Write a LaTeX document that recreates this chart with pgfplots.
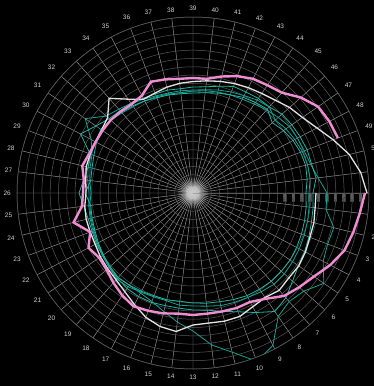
\documentclass[border=0pt]{standalone}
\usepackage{fontspec}
\setmainfont{Liberation Sans}
\usepackage{pgfplots}
\usepackage{pgfplotstable}
\usepgfplotslibrary{polar}
\pgfplotsset{compat=1.18}

\definecolor{spoke}{HTML}{9A9A9A}
\definecolor{ring}{HTML}{585858}
\definecolor{lbl}{HTML}{D0D0D0}
\definecolor{pinkline}{HTML}{F08CD2}
\definecolor{whiteline}{HTML}{E2E2E2}
\definecolor{tealA}{HTML}{12A496}
\definecolor{tealB}{HTML}{20B4A4}

% weekly values, one column per year; week 52 closes the year
\pgfplotstableread{
w  pink  white  ta   tb   tc   td
0  172   123    134  120  116  113
1  168   123    134  121  117  114
2  165   124.5  145  122  118  115
3  162   125    144  124  119  116
4  155   127    147  126  120  117
5  147   128.5  159  128  121  118
6  142   128    148  133  122  118
7  137.5 130    145  140  122  118
8  128.5 127    150  144  120  117
9  123   128.5  172  135  118  116
10 123   132    180  127  117  114
11 122   132    164  122  116  112
12 121.5 131    153  118  114  111
13 122   132    138  117  113  110
14 121.5 139.5  130  116  113  109
15 124   137.5  122  116  111  110
16 126   133    116  117  111  110
17 128   126    113  117  112  111
18 124.5 120    112  116  114  112
19 120   116    113  114  115  113
20 115.5 114    111  112  112  111
21 114   112.5  109  110  110  109
22 118   110.5  108  109  108  107
23 110   110    107  108  106  105
24 123   110    106  108  105  104
25 112   109    105  110  104  103
26 110   107    104  114  102  108
27 110   108    106  110  104  103
28 114   110    108  108  106  104
29 111   110    109  110  108  106
30 110   110    110  127  115  109
31 110   111    112  118  131  110
32 110   114    110  112  116  110
33 109   126.5  107  110  112  108
34 108   114    105  108  109  106
35 110   106    104  107  106  104
36 119   107    103  106  104  102
37 117   109    102  106  103  101
38 115   110.5  101  105  103  100
39 115   111.5  102  106  103  100
40 115   113    103  107  104  101
41 120   115    104  110  106  103
42 125   117    105  114  108  105
43 129   119    106  114  110  108
44 131   121    108  115  113  110
45 134   124    111  115  115  112
46 144   129    114  119  110  106
47 152   133    117  120  113  110
48 154   140    118  121  115  113
49 155   150    119  122  117  115
50 nan   161    121  122  118  116
51 nan   169    126  124  118  115
52 nan   174    134  120  116  113
}\weeks

\begin{document}
\begin{tikzpicture}
\fill[black] (-193pt,-193pt) rectangle (181pt,193pt);
\useasboundingbox (-193pt,-193pt) rectangle (181pt,193pt);
\clip (-193pt,-193pt) rectangle (181pt,193pt);
\begin{polaraxis}[
  at={(0pt,0pt)}, anchor=center,
  scale only axis, width=352pt, height=352pt,
  ymin=0, ymax=176,
  unbounded coords=jump,
  xtick={0,6.923077,...,353.1},
  xticklabels={0,51,50,49,48,47,46,45,44,43,42,41,40,39,38,37,36,35,34,33,32,31,30,29,28,27,26,25,24,23,22,21,20,19,18,17,16,15,14,13,12,11,10,9,8,7,6,5,4,3,2,1},
  xticklabel style={font=\fontsize{6.5}{7}\selectfont, text=lbl, inner sep=6pt},
  % rings on the minor ticks, radial values on the major ticks
  minor ytick={10,18.3,...,176.1},
  ytick={89,97.4,105.8,114.2,122.6,131,139.4,147.8,156.2,164.6},
  yticklabels={1000,1100,1200,1300,1400,1500,1600,1700,1800,1900},
  yticklabel style={rotate=90, anchor=east, inner sep=0.6pt, yshift=-3pt,
      font=\fontsize{3.4}{4}\selectfont, text=white!62!black, fill=white!24!black},
  major tick length=0pt, minor tick length=0pt,
  xmajorgrids, yminorgrids, ymajorgrids=false,
  major x grid style={spoke, line width=0.45pt},
  minor y grid style={ring, line width=0.5pt},
  axis line style={ring, line width=0.5pt},
]
\addplot[tealA, line width=0.8pt] table[x expr={360-\thisrow{w}*360/52}, y=ta] {\weeks};
\addplot[tealB, line width=0.8pt] table[x expr={360-\thisrow{w}*360/52}, y=tb] {\weeks};
\addplot[tealA, line width=0.8pt] table[x expr={360-\thisrow{w}*360/52}, y=tc] {\weeks};
\addplot[tealB, line width=0.8pt] table[x expr={360-\thisrow{w}*360/52}, y=td] {\weeks};
\addplot[whiteline, line width=1.3pt] table[x expr={360-\thisrow{w}*360/52}, y=white] {\weeks};
\addplot[pinkline, line width=2.4pt] table[x expr={360-\thisrow{w}*360/52}, y=pink] {\weeks};
\end{polaraxis}
% soft glow where the spokes meet
\foreach \r in {15,13,11,9,7,5,3.5}
  \fill[white, opacity=0.09] (0pt,0pt) circle (\r pt);
\end{tikzpicture}
\end{document}
